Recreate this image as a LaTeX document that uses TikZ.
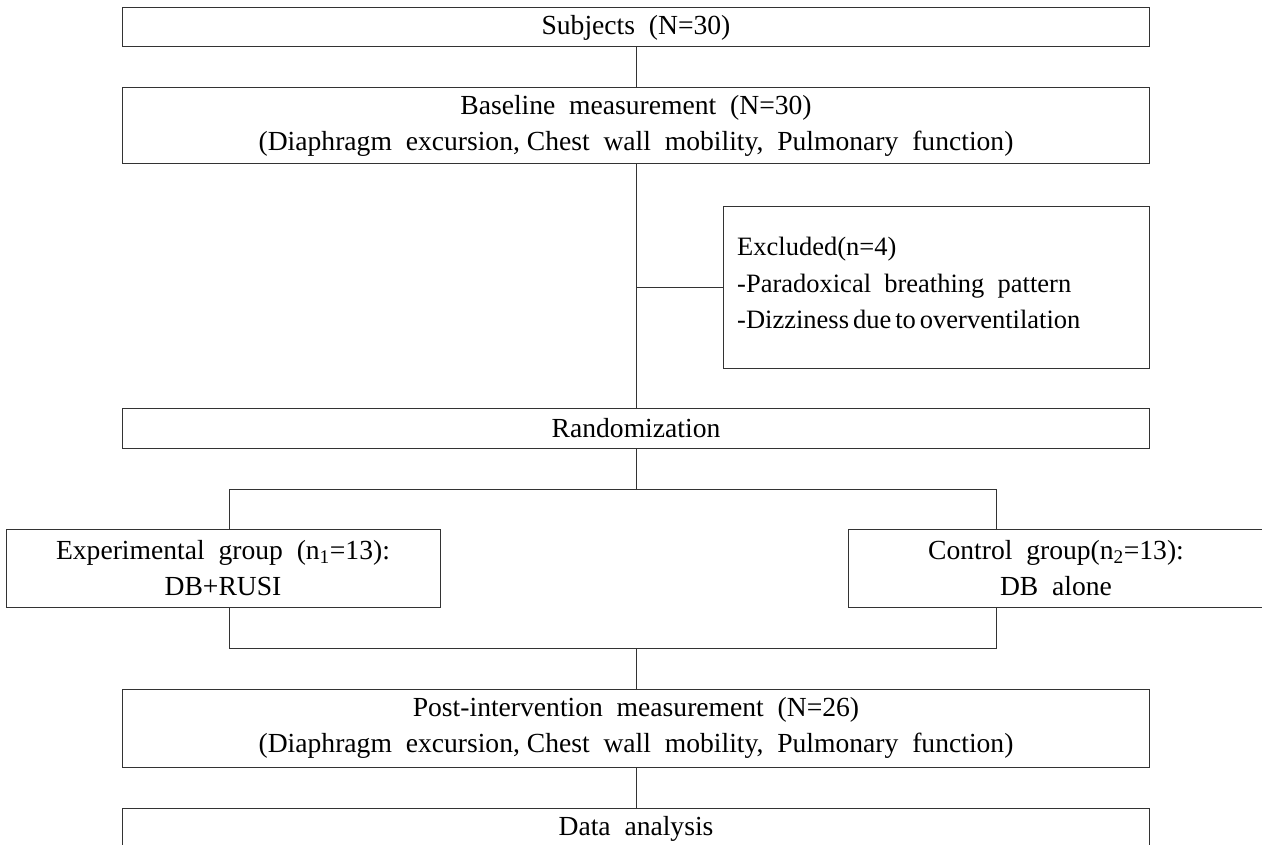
\documentclass[tikz,border=0pt]{standalone}
\usepackage{fontspec}
\setmainfont{Liberation Serif}
\begin{document}
\begin{tikzpicture}[x=1pt,y=-1pt,
  line/.style={draw=black!80,line width=1pt},
  txt/.style={font=\fontsize{27.6}{36.5}\selectfont,text=black,inner sep=0pt},
  box/.style={txt,draw=black!80,line width=1pt,outer sep=0pt,align=center},
  wide/.style={box,minimum width=1027pt}]
\useasboundingbox (0,0) rectangle (1262,845);
\node[wide,minimum height=39pt] (subj) at (636,27.5) {Subjects\ \ (N=30)};
\node[wide,minimum height=76pt] (base) at (636,126) {Baseline\ \ measurement\ \ (N=30)\\(Diaphragm\ \ excursion,\ Chest\ \ wall\ \ mobility,\ \ Pulmonary\ \ function)};
\node[box,minimum width=426pt,minimum height=161pt] (excl) at (936,287.5) {};
\node[txt,font=\fontsize{26.5}{36.5}\selectfont,anchor=west,align=left] (excltxt) at (737,283) {Excluded(n=4)\\-Paradoxical\ \ breathing\ \ pattern\\-Dizziness\hspace{4pt}due\hspace{4pt}to\hspace{4pt}overventilation};
\node[wide,minimum height=40pt] (rand) at (636,428) {Randomization};
\node[box,minimum width=434pt,minimum height=78pt] (exp) at (223,568) {Experimental\ \ group\ \ (n\textsubscript{1}=13):\\DB+RUSI};
\node[box,minimum width=416pt,minimum height=78pt] (ctl) at (1056,568) {Control\ \ group(n\textsubscript{2}=13):\\DB\ \ alone};
\node[wide,minimum height=78pt] (post) at (636,728) {Post-intervention\ \ measurement\ \ (N=26)\\(Diaphragm\ \ excursion,\ Chest\ \ wall\ \ mobility,\ \ Pulmonary\ \ function)};
\node[wide,minimum height=60pt] (data) at (636,838) {};
\node[txt] (datatxt) at (636,829) {Data\ \ analysis};
% connectors
\coordinate (j1) at (636,287.5);
\coordinate (s1) at (636,489);
\coordinate (sl) at (229,489);
\coordinate (sr) at (996,489);
\coordinate (m1) at (636,648);
\coordinate (ml) at (229,648);
\coordinate (mr) at (996,648);
\draw[line] (subj.south) -- (base.north);
\draw[line] (base.south) -- (rand.north);
\draw[line] (j1) -- (excl.west);
\draw[line] (rand.south) -- (s1);
\draw[line] (sl) -- (sr);
\draw[line] (sl) -- (sl |- exp.north);
\draw[line] (sr) -- (sr |- ctl.north);
\draw[line] (ml |- exp.south) -- (ml) -- (mr) -- (mr |- ctl.south);
\draw[line] (m1) -- (post.north);
\draw[line] (post.south) -- (data.north);
\end{tikzpicture}
\end{document}
